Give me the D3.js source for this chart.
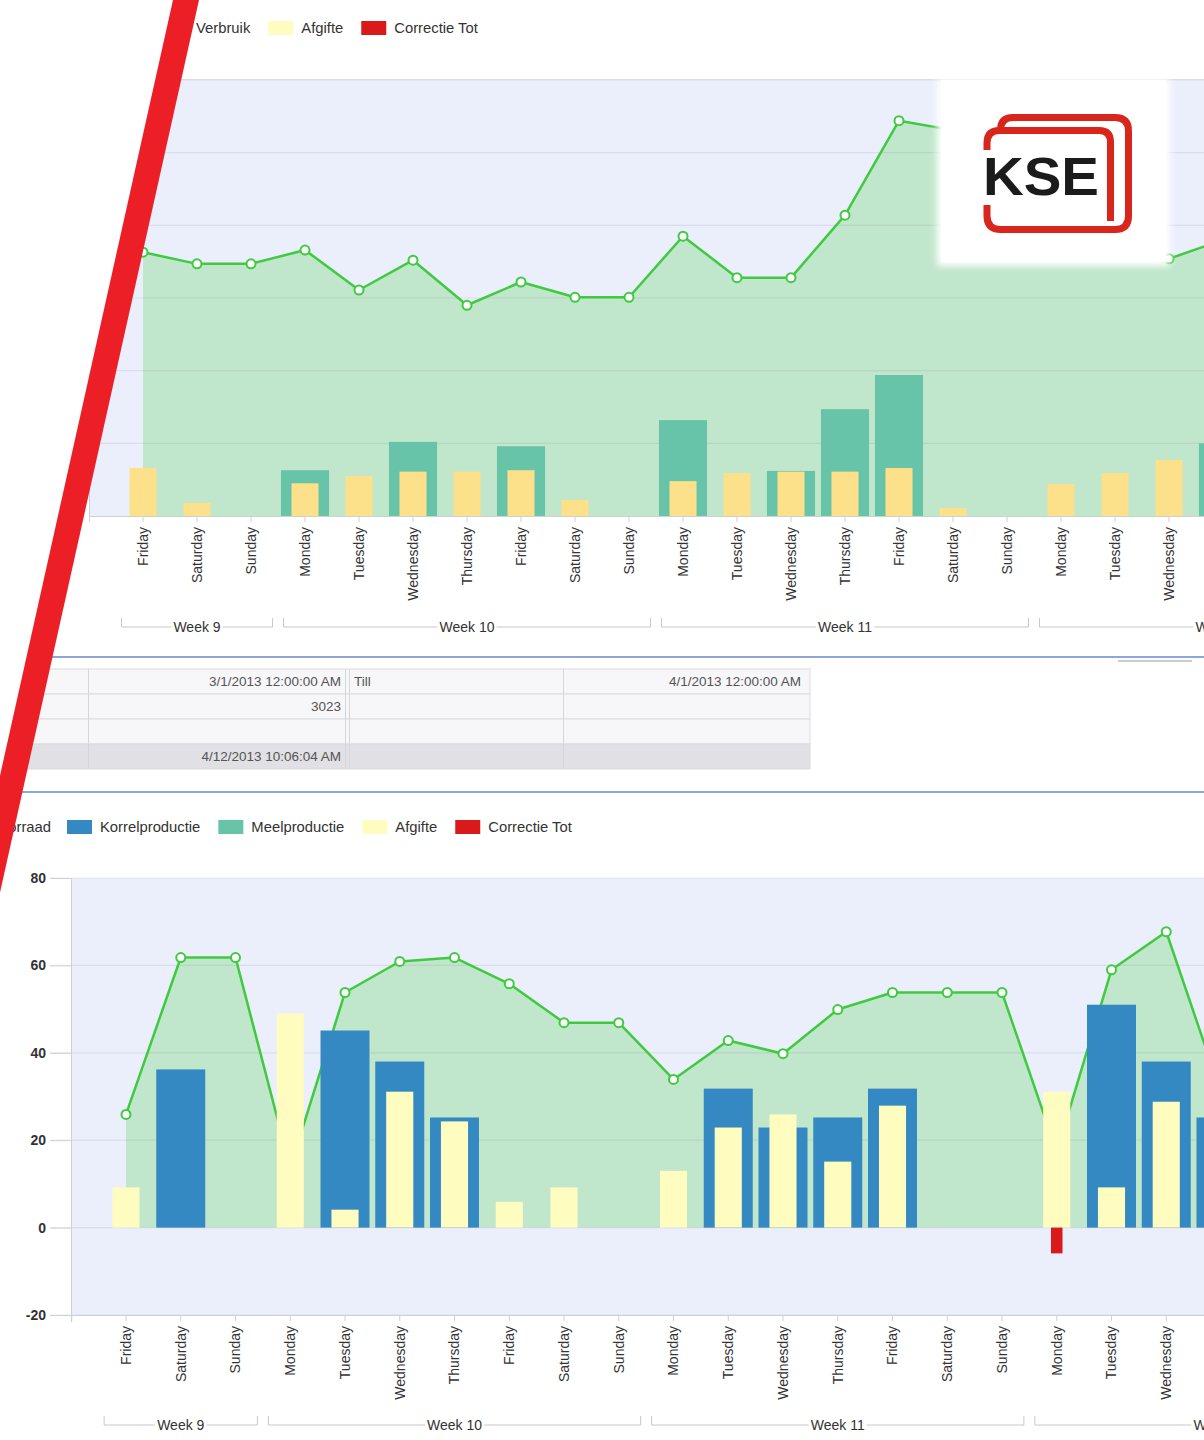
<!DOCTYPE html>
<html><head><meta charset="utf-8">
<script src="https://cdn.jsdelivr.net/npm/d3@7"></script>
<style>
html,body{margin:0;padding:0;background:#fff;overflow:hidden;}
svg{display:block;}
</style></head><body>
<svg id="c" width="1204" height="1440"></svg>
<script>
// ---------------- DATA ----------------
const days = ["Friday","Saturday","Sunday","Monday","Tuesday","Wednesday","Thursday","Friday","Saturday","Sunday",
  "Monday","Tuesday","Wednesday","Thursday","Friday","Saturday","Sunday","Monday","Tuesday","Wednesday","Thursday","Friday","Saturday","Sunday"];
const weekNames = ["Week 9","Week 10","Week 11","Week 12"];
const weekFirst = [0,3,10,17];
const weekLast  = [2,9,16,23];

// top chart (values up to Thursday week 12)
const topTicks = [0,10,20,30,40,50,60];
const topVoorraad = [36.3,34.7,34.7,36.6,31.1,35.2,29.0,32.2,30.1,30.1,38.5,32.8,32.8,41.4,54.4,53.1,49.0,42.1,37.3,35.4,38.0];
const topMeel     = [0,0,0,6.3,0,10.2,0,9.6,0,0,13.2,0,6.2,14.7,19.4,0,0,0,0,0,10.0];
const topAfgifte  = [6.6,1.8,0,4.5,5.5,6.1,6.1,6.3,2.2,0,4.8,5.9,6.1,6.1,6.6,1.1,0,4.4,5.9,7.7,5.5];
const topLegend   = ["Verbruik","Afgifte","Correctie Tot"];

// bottom chart
const botTicks = [-20,0,20,40,60,80];
const botVoorraad  = [25.9,61.8,61.8,13.7,53.8,60.9,61.8,55.8,46.9,46.9,33.9,42.8,39.8,49.9,53.8,53.8,53.8,17.4,59.0,67.7,30.9];
const botKorrel    = [0,36.2,0,0,45.1,38.0,25.2,0,0,0,0,31.8,22.9,25.2,31.8,0,0,0,51.0,38.0,25.2];
const botAfgifte   = [9.2,0,0,49.0,4.1,31.1,24.3,5.9,9.2,0,13.0,22.9,25.9,15.1,27.9,0,0,31.1,9.2,28.8,20.0];
const botCorrectie = [0,0,0,0,0,0,0,0,0,0,0,0,0,0,0,0,0,-5.9,0,0,0];
const botLegend    = ["Voorraad","Korrelproductie","Meelproductie","Afgifte","Correctie Tot"];

// info table
const tableRow1 = ["3/1/2013 12:00:00 AM","Till","4/1/2013 12:00:00 AM"];
const tableRow2 = ["3023","",""];
const tableRow3 = ["","",""];
const tableRow4 = ["4/12/2013 10:06:04 AM","",""];

// ---------------- STYLE ----------------
const W = 1204;
const FONT = '"Liberation Sans", Arial, sans-serif';
const C = {
  plot:"#ebeffc", area:"#c0e6cb", line:"#3fca3f", grid:"rgba(130,110,140,0.14)",
  axis:"#cfcfd6", text:"#333", meel:"#67c4a9", topAfg:"#fde08a", korrel:"#3489c2",
  afg:"#fffcc0", corr:"#da1a1a", stripe:"#ec1f26", logo:"#d9261c", blueRule:"#8ea7da"
};
const legendColors = {"Verbruik":"#7fd0a0","Afgifte":C.afg,"Correctie Tot":C.corr,
  "Voorraad":"#c0e6cb","Korrelproductie":C.korrel,"Meelproductie":C.meel};
const LEGEND_FS = 14.8;

const svg = d3.select("#c");
svg.append("rect").attr("width",W).attr("height",1440).attr("fill","#fff");

// ---------------- helpers ----------------
function legend(items, xStart, yc, firstIsText) {
  let cx = xStart;
  items.forEach((name, k) => {
    if (!(firstIsText && k === 0)) {
      svg.append("rect").attr("x",cx).attr("y",yc-7).attr("width",25).attr("height",14).attr("fill",legendColors[name]);
      cx += 33;
    }
    const t = svg.append("text").attr("x",cx).attr("y",yc+5).attr("font-family",FONT).attr("font-size",LEGEND_FS)
      .attr("fill",C.text).text(name);
    cx += t.node().getComputedTextLength() + 18;
  });
}

function xAxis(x, yPos, bracketY) {
  const visible = x.domain().filter(i => x(i) + x.bandwidth()/2 + 8 < W);
  const ax = d3.axisBottom(x).tickValues(visible).tickSize(6).tickSizeOuter(6).tickFormat(i => days[i]);
  const g = svg.append("g").attr("transform",`translate(0,${yPos})`).call(ax)
    .attr("font-family",FONT).attr("font-size",14);
  g.select(".domain").attr("stroke",C.axis);
  g.selectAll(".tick line").attr("stroke",C.axis);
  g.selectAll(".tick text").attr("transform","rotate(-90)").attr("text-anchor","end")
    .attr("x",-11).attr("y",0).attr("dy","0.35em").attr("fill",C.text);
  const step = x.step();
  weekNames.forEach((w,k) => {
    const x0 = x(weekFirst[k]) + 5.5, x1 = x(weekLast[k]) + step - 5.5, cx = (x0+x1)/2;
    const t = svg.append("text").attr("x",cx).attr("y",bracketY+5).attr("text-anchor","middle")
      .attr("font-family",FONT).attr("font-size",14).attr("fill",C.text).text(w);
    const tw = t.node().getComputedTextLength();
    svg.append("path").attr("fill","none").attr("stroke","#c8c8cc").attr("stroke-width",1)
      .attr("d",`M${x0},${bracketY-9}V${bracketY}H${cx-tw/2-2}M${cx+tw/2+2},${bracketY}H${x1}V${bracketY-9}`);
  });
}

function lineArea(x, y, vals) {
  const cx = i => x(i) + x.bandwidth()/2;
  const pts = vals.map((v,i)=>[i,v]);
  svg.append("path").datum(pts).attr("fill",C.area)
    .attr("d", d3.area().x(d=>cx(d[0])).y0(y(0)).y1(d=>y(d[1])));
  return {cx, pts};
}
function lineMarks(x, y, la) {
  svg.append("path").datum(la.pts).attr("fill","none").attr("stroke",C.line).attr("stroke-width",2.5)
    .attr("stroke-linejoin","round").attr("d", d3.line().x(d=>la.cx(d[0])).y(d=>y(d[1])));
  svg.append("g").selectAll("circle").data(la.pts).join("circle")
    .attr("cx",d=>la.cx(d[0])).attr("cy",d=>y(d[1])).attr("r",4.5)
    .attr("fill","#fff").attr("stroke",C.line).attr("stroke-width",2);
}
function bars(x, y, vals, frac, color) {
  const w = x.step()*frac;
  svg.append("g").selectAll("rect").data(vals.map((v,i)=>[i,v]).filter(d=>d[1]!==0)).join("rect")
    .attr("x",d=>x(d[0])+x.bandwidth()/2-w/2).attr("width",w)
    .attr("y",d=>y(Math.max(0,d[1]))).attr("height",d=>Math.abs(y(d[1])-y(0)))
    .attr("fill",color);
}
function grid(y, ticks, x0, x1) {
  svg.append("g").selectAll("line").data(ticks).join("line")
    .attr("x1",x0).attr("x2",x1).attr("y1",d=>y(d)).attr("y2",d=>y(d))
    .attr("stroke",C.grid).attr("stroke-width",1.2);
}

// ================= TOP CHART =================
const xTop = d3.scaleBand().domain(d3.range(days.length)).range([89, 89 + 54*(days.length+1)])
  .paddingInner(0).paddingOuter(0.5);
const yTop = d3.scaleLinear().domain([0,60]).range([516,80]);
legend(topLegend, 196, 28, true);
svg.append("rect").attr("x",89).attr("y",80).attr("width",W-89).attr("height",436).attr("fill",C.plot);
svg.append("line").attr("x1",89).attr("x2",W).attr("y1",79.5).attr("y2",79.5).attr("stroke","#e3e3e8");
const laTop = lineArea(xTop, yTop, topVoorraad);
grid(yTop, topTicks.slice(1), 89, W);
lineMarks(xTop, yTop, laTop);
bars(xTop, yTop, topMeel, 0.89, C.meel);
bars(xTop, yTop, topAfgifte, 0.5, C.topAfg);
svg.append("line").attr("x1",89.5).attr("x2",89.5).attr("y1",80).attr("y2",516).attr("stroke",C.axis);
xAxis(xTop, 516, 627);

// logo
const defs = svg.append("defs");
defs.append("filter").attr("id","soft").attr("x","-10%").attr("y","-10%").attr("width","120%").attr("height","120%")
  .append("feGaussianBlur").attr("stdDeviation",3.5);
svg.append("rect").attr("x",937).attr("y",78).attr("width",233).attr("height",188).attr("fill","#fff").attr("filter","url(#soft)");
svg.append("rect").attr("x",941).attr("y",80).attr("width",225).attr("height",182).attr("fill","#fff");
const lg = svg.append("g").attr("fill","none").attr("stroke",C.logo).attr("stroke-width",7);
lg.append("path").attr("d","M987,150V143Q987,130.5 999.5,130.5H1099Q1110.5,130.5 1110.5,142V221");
lg.append("path").attr("d","M1000.5,131V130Q1000.5,117.5 1013,117.5H1115Q1128.5,117.5 1128.5,131V216Q1128.5,229.5 1115,229.5H1001Q987,229.5 987,216V205");
svg.append("text").attr("x",983).attr("y",195).attr("font-family",FONT).attr("font-weight","bold")
  .attr("font-size",53).attr("fill","#1b1b1b").attr("textLength",116).attr("lengthAdjust","spacingAndGlyphs").text("KSE");

// ================= MIDDLE PANEL =================
svg.append("line").attr("x1",40).attr("x2",W).attr("y1",657).attr("y2",657).attr("stroke",C.blueRule).attr("stroke-width",2);
svg.append("line").attr("x1",1118).attr("x2",1192).attr("y1",661).attr("y2",661).attr("stroke","#b8bcc8").attr("stroke-width",1.5);
svg.append("line").attr("x1",0).attr("x2",W).attr("y1",792).attr("y2",792).attr("stroke",C.blueRule).attr("stroke-width",2);
const rows = [tableRow1,tableRow2,tableRow3,tableRow4];
const colX = [0,88,349,563,810];
rows.forEach((r,k) => {
  const y0 = 669 + k*25;
  svg.append("rect").attr("x",0).attr("y",y0).attr("width",810).attr("height",25)
    .attr("fill", k===3 ? "#e1e0e4" : "#f7f6f9").attr("stroke","#dcdbe0");
  [1,2,3].forEach(c => svg.append("line").attr("x1",colX[c]+0.5).attr("x2",colX[c]+0.5).attr("y1",y0).attr("y2",y0+25).attr("stroke","#d6d5da"));
  svg.append("line").attr("x1",345.5).attr("x2",345.5).attr("y1",y0).attr("y2",y0+25).attr("stroke","#d6d5da");
  const tt = (txt,x,anchor) => svg.append("text").attr("x",x).attr("y",y0+17).attr("text-anchor",anchor)
      .attr("font-family",FONT).attr("font-size",13.5).attr("fill","#555").text(txt);
  if (r[0]) tt(r[0], 341, "end");
  if (r[1]) tt(r[1], 354, "start");
  if (r[2]) tt(r[2], 801, "end");
});

// ================= BOTTOM CHART =================
const xBot = d3.scaleBand().domain(d3.range(days.length)).range([71.25, 71.25 + 54.75*(days.length+1)])
  .paddingInner(0).paddingOuter(0.5);
const yBot = d3.scaleLinear().domain([-20,80]).range([1315,878]);
{
  svg.append("text").attr("x",51).attr("y",832).attr("text-anchor","end").attr("font-family",FONT)
    .attr("font-size",LEGEND_FS).attr("fill",C.text).text(botLegend[0]);
  legend(botLegend.slice(1), 67, 827, false);
}
svg.append("rect").attr("x",71).attr("y",878).attr("width",W-71).attr("height",437).attr("fill",C.plot);
const laBot = lineArea(xBot, yBot, botVoorraad);
grid(yBot, botTicks, 50, W);
lineMarks(xBot, yBot, laBot);
bars(xBot, yBot, botKorrel, 0.895, C.korrel);
bars(xBot, yBot, botAfgifte, 0.495, C.afg);
bars(xBot, yBot, botCorrectie, 0.21, C.corr);
{
  const g = svg.append("g").attr("transform","translate(71,0)")
    .call(d3.axisLeft(yBot).tickValues(botTicks).tickFormat(d => String(d)).tickSize(21).tickSizeOuter(0).tickPadding(4))
    .attr("font-family",FONT).attr("font-size",14).attr("font-weight","bold");
  g.select(".domain").attr("stroke",C.axis);
  g.selectAll(".tick line").attr("stroke",C.axis);
  g.selectAll(".tick text").attr("fill",C.text);
  svg.append("line").attr("x1",71.5).attr("x2",71.5).attr("y1",1315).attr("y2",1322).attr("stroke",C.axis);
}
xAxis(xBot, 1315, 1425);

// ================= DIAGONAL CUT + RED STRIPE =================
const slope = 0.223;
svg.append("polygon").attr("fill","#fff")
  .attr("points",`-60,0 173,0 ${173-slope*900},900 -60,900`);
svg.append("polygon").attr("fill",C.stripe)
  .attr("points",`173,0 199,0 ${199-slope*900},900 ${173-slope*900},900`);
</script>
</body></html>
